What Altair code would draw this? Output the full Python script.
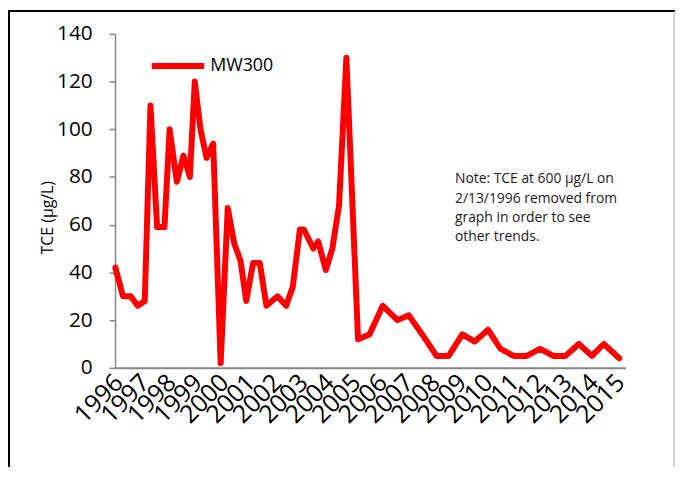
import altair as alt
import pandas as pd

series_name = "MW300"

dates = [
    "1996-01-05", "1996-04-20", "1996-08-05", "1996-11-10",
    "1997-02-15", "1997-05-05", "1997-08-05", "1997-11-15",
    "1998-01-25", "1998-05-05", "1998-08-05", "1998-11-01",
    "1999-01-08", "1999-03-28", "1999-06-20", "1999-09-20",
    "2000-01-01", "2000-04-08", "2000-07-08", "2000-10-01", "2000-12-20",
    "2001-03-25", "2001-06-25", "2001-09-25",
    "2002-02-25", "2002-06-25", "2002-09-25",
    "2003-01-01", "2003-02-25", "2003-07-05", "2003-09-12", "2003-12-25",
    "2004-03-25", "2004-06-25", "2004-10-05",
    "2005-03-15", "2005-08-20",
    "2006-02-20", "2006-09-12",
    "2007-02-15", "2007-08-20",
    "2008-03-05", "2008-08-20",
    "2009-02-25", "2009-08-15",
    "2010-02-15", "2010-08-05",
    "2011-02-05", "2011-08-05",
    "2012-02-05", "2012-08-05",
    "2013-01-22", "2013-07-25",
    "2014-01-22", "2014-07-05",
    "2015-02-05",
]

tce = [
    42, 30, 30, 26,
    28, 110, 59, 59,
    100, 78, 89, 80,
    120, 100, 88, 94,
    2, 67, 52, 45, 28,
    44, 44, 26,
    30, 26, 34,
    58, 58, 50, 53, 41,
    50, 68, 130,
    12, 14,
    26, 20,
    22, 14,
    5, 5,
    14, 11,
    16, 8,
    5, 5,
    8, 5,
    5, 10,
    5, 10,
    4,
]

y_ticks = [0, 20, 40, 60, 80, 100, 120, 140]

note_lines = [
    "Note: TCE at 600 \u03bcg/L on",
    "2/13/1996 removed from",
    "graph in order to see",
    "other trends.",
]

df = pd.DataFrame({"date": dates, "tce": tce, "series": series_name})
note_df = pd.DataFrame({"note": ["\n".join(note_lines)]})
one = pd.DataFrame({"k": [0]})

W, H = 515, 337
FONT = "Open Sans"

line = alt.Chart(df).mark_line(
    strokeWidth=6, strokeJoin="round", strokeCap="round"
).encode(
    x=alt.X(
        "date:T",
        scale=alt.Scale(
            type="utc",
            domain=[alt.DateTime(year=1996, month=1, date=1, utc=True),
                    alt.DateTime(year=2015, month=5, date=1, utc=True)],
            nice=False,
        ),
        axis=alt.Axis(
            title=None, format="%Y", tickCount={"interval": "year", "step": 1},
            labelAngle=-45, labelFontSize=25, labelFont=FONT, labelColor="#000000",
            labelOverlap=False, labelFlush=False, ticks=False,
            domainColor="#868686", domainWidth=2, grid=False, labelPadding=2,
            labelOffset=-5,
        ),
    ),
    y=alt.Y(
        "tce:Q",
        scale=alt.Scale(domain=[0, 140], nice=False),
        axis=alt.Axis(
            title="TCE (\u03bcg/L)", values=y_ticks, grid=False,
            labelFontSize=21, labelFont=FONT, labelColor="#000000",
            labelPadding=17, tickSize=6, tickColor="#868686", tickWidth=1.5,
            domainColor="#868686", domainWidth=1.5,
            titleFont=FONT, titleFontSize=16, titleFontWeight="normal",
            titleColor="#000000", titleAngle=270, titleAlign="center",
            titleBaseline="middle", titleX=-68, titleY=185,
        ),
    ),
    color=alt.Color(
        "series:N",
        scale=alt.Scale(domain=[series_name], range=["#FF0000"]),
        legend=alt.Legend(
            title=None, orient="none", legendX=34, legendY=3, padding=0,
            symbolType="stroke", symbolSize=2809, symbolStrokeWidth=6,
            labelFontSize=18, labelFont=FONT, labelColor="#000000", labelOffset=3,
        ),
    ),
)

note = alt.Chart(note_df).mark_text(
    align="left", baseline="alphabetic", fontSize=14, font=FONT,
    lineHeight=19.5, lineBreak="\n", color="#1a1a1a",
).encode(text="note:N", x=alt.value(343), y=alt.value(151))

frame_left = alt.Chart(one).mark_rule(color="#000000", strokeWidth=2).encode(
    x=alt.value(-107), y=alt.value(-23), y2=alt.value(H + 100))
frame_top = alt.Chart(one).mark_rule(color="#000000", strokeWidth=2).encode(
    x=alt.value(-108), x2=alt.value(565), y=alt.value(-23))
frame_right = alt.Chart(one).mark_rule(color="#A6A6A6", strokeWidth=1).encode(
    x=alt.value(564), y=alt.value(-23), y2=alt.value(H + 100))

chart = alt.layer(line, note, frame_left, frame_top, frame_right).properties(
    width=W, height=H,
    autosize=alt.AutoSizeParams(type="none"),
    padding={"left": 108, "top": 24, "right": 50, "bottom": 100},
).configure_view(stroke=None)

chart.save("out.html", embed_options={"renderer": "svg", "actions": False})
